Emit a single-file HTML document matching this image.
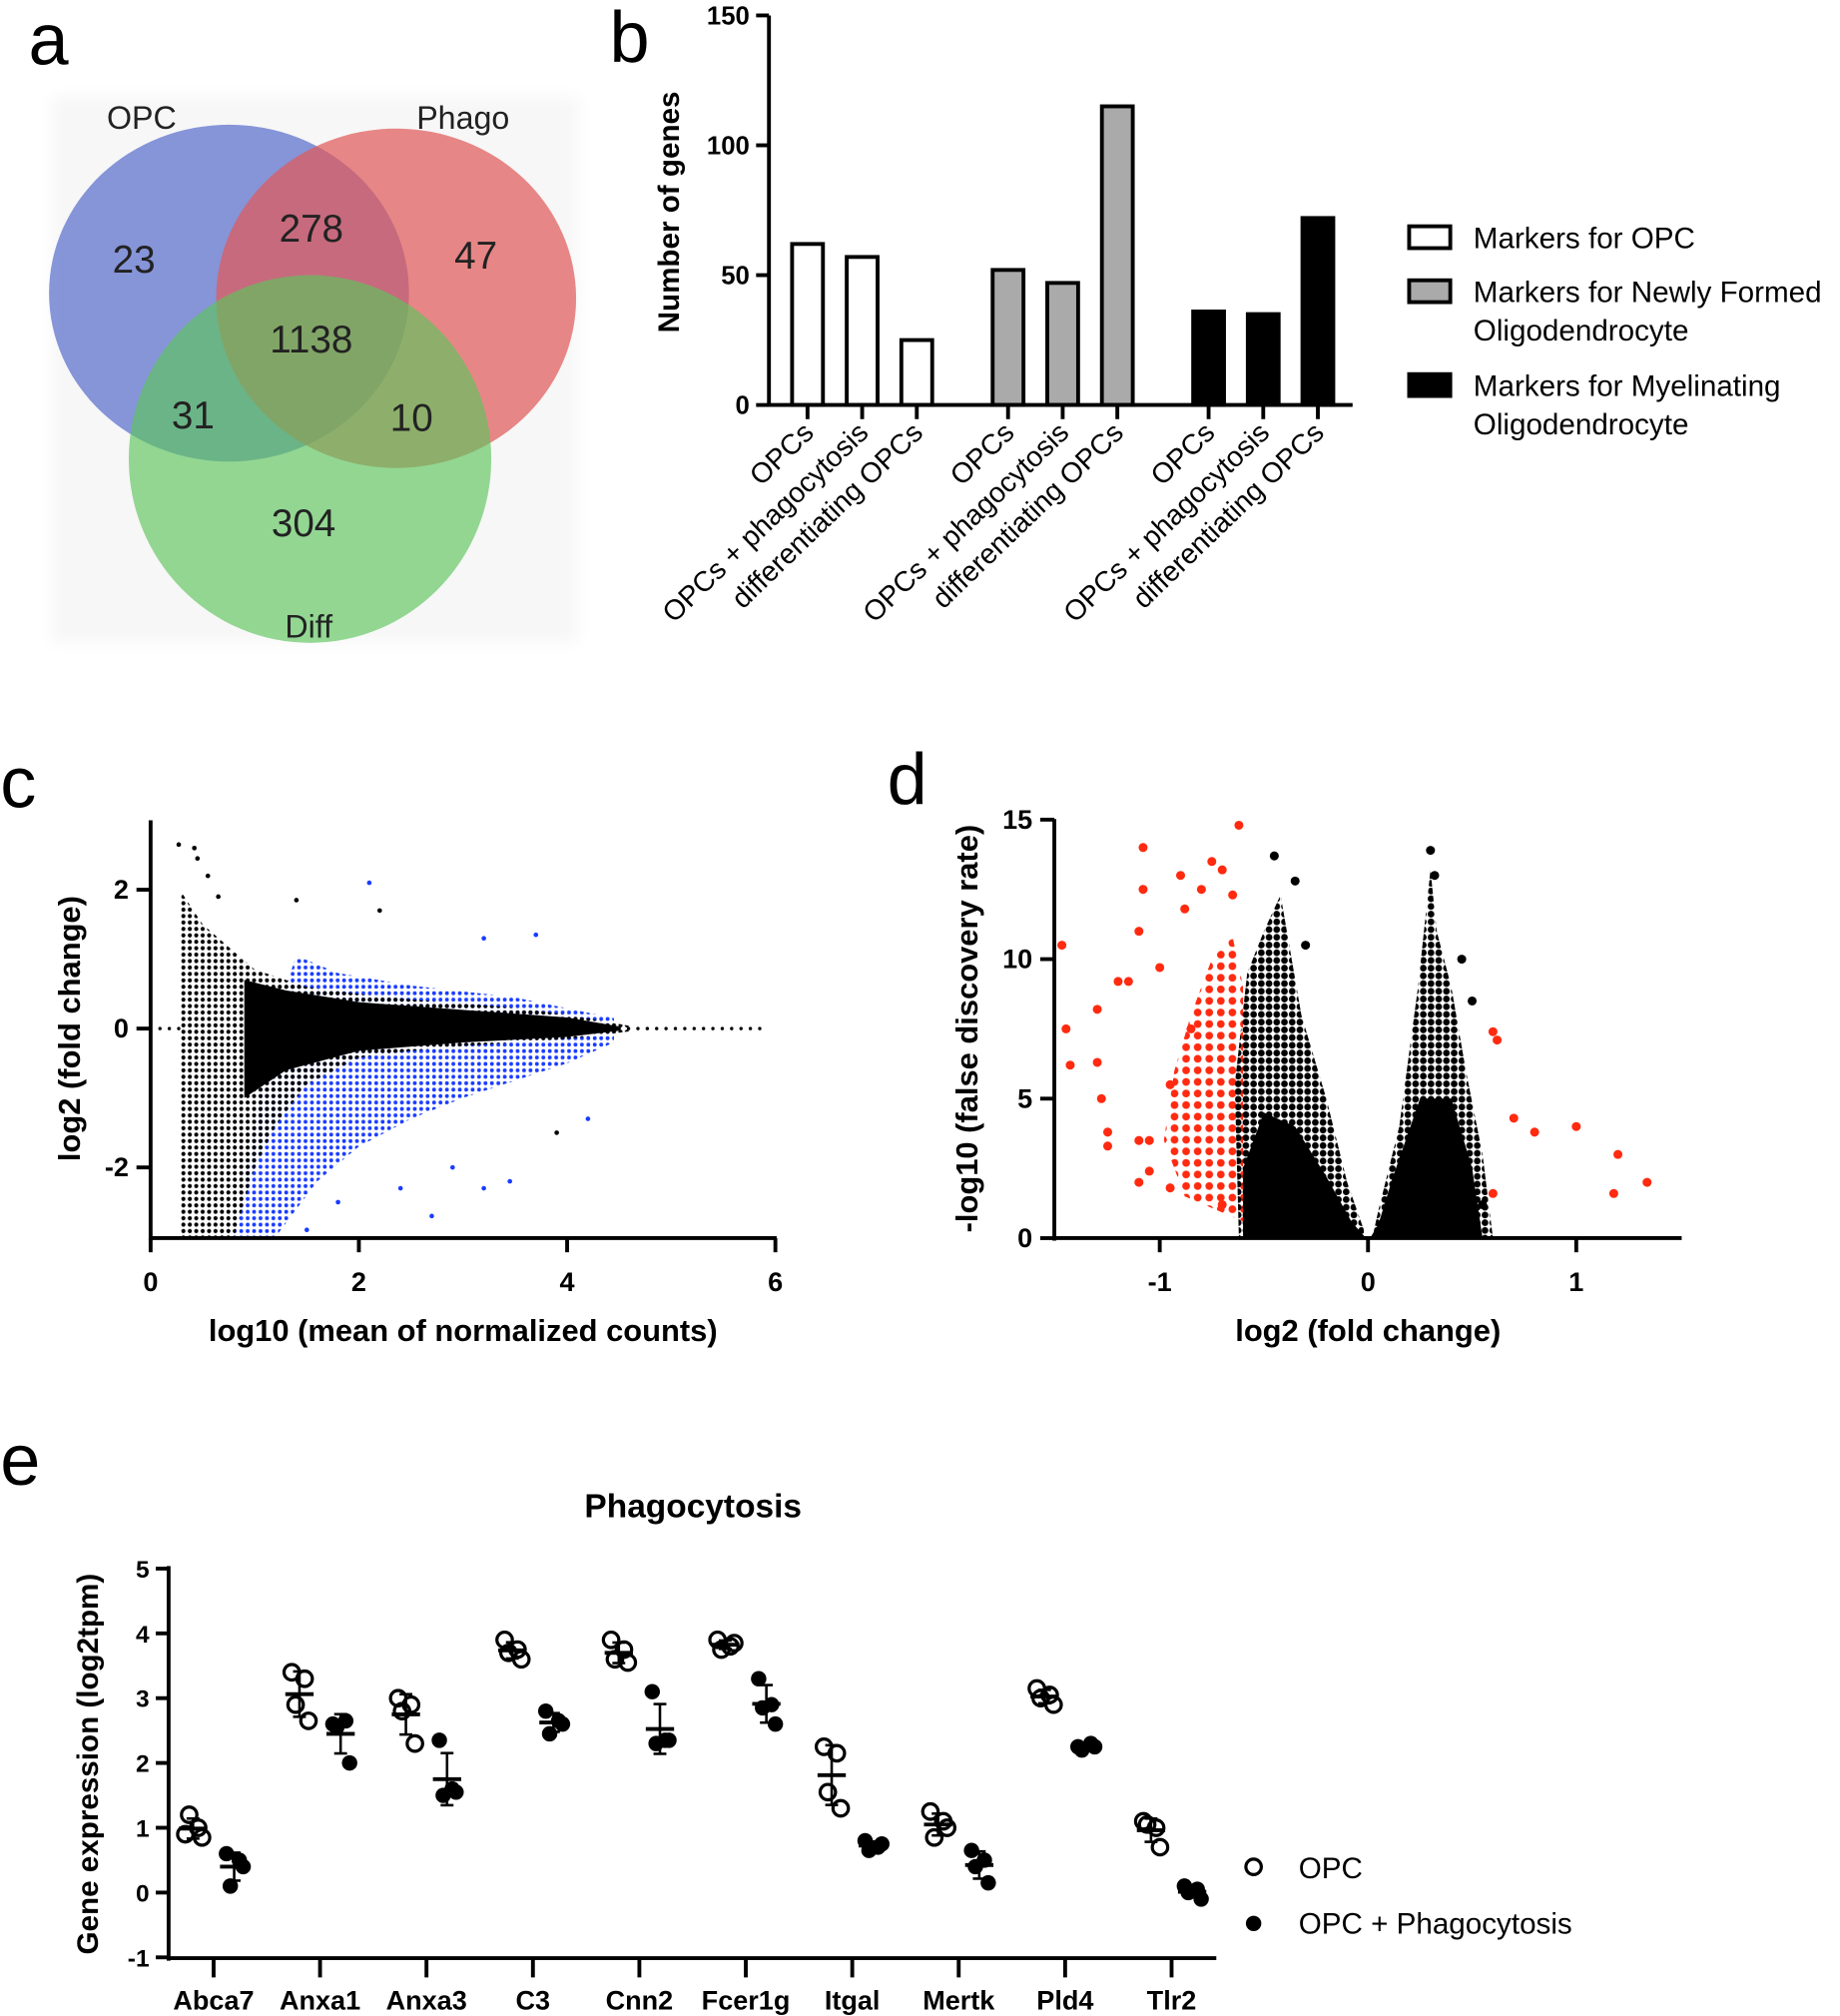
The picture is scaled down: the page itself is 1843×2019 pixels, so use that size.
<!DOCTYPE html>
<html><head><meta charset="utf-8"><style>
html,body{margin:0;padding:0;background:#fff}
svg{display:block}
text{font-family:"Liberation Sans",Arial,sans-serif}
</style></head><body>
<svg id="fig" width="1843" height="2019" viewBox="0 0 1431 1568" xmlns="http://www.w3.org/2000/svg">
<defs>
<pattern id="pk" width="5" height="5" patternUnits="userSpaceOnUse"><circle cx="2.5" cy="2.5" r="1.6" fill="#000"/></pattern>
<pattern id="pb2" width="5" height="5" patternUnits="userSpaceOnUse"><circle cx="2.5" cy="2.5" r="1.5" fill="#1a3cff"/></pattern>
<pattern id="pr" width="9" height="9" patternUnits="userSpaceOnUse"><circle cx="4.5" cy="4.5" r="3" fill="#ff2a10"/></pattern>
<pattern id="pdk" width="6" height="6" patternUnits="userSpaceOnUse"><circle cx="3" cy="3" r="2.6" fill="#000"/></pattern>
<filter id="blur"><feGaussianBlur stdDeviation="6"/></filter>
</defs>
<g font-size="56">
<text x="22" y="50">a</text>
<text x="474" y="48">b</text>
<text x="0" y="628">c</text>
<text x="690" y="625">d</text>
<text x="0" y="1155">e</text>
</g>
<g>
<rect x="40" y="75" width="410" height="425" fill="#f7f7f7" filter="url(#blur)"/>
<ellipse cx="178" cy="228" rx="140" ry="131" fill="#5a6ecc" fill-opacity="0.72"/>
<ellipse cx="308" cy="232" rx="140" ry="132" fill="#e05a5a" fill-opacity="0.72"/>
<ellipse cx="241" cy="357" rx="141" ry="143" fill="#5cc45c" fill-opacity="0.65"/>
<g font-size="30" fill="#222" text-anchor="middle">
<text x="110" y="100" font-size="25">OPC</text>
<text x="360" y="100" font-size="25">Phago</text>
<text x="240" y="496" font-size="25">Diff</text>
<text x="104" y="212">23</text>
<text x="242" y="188">278</text>
<text x="370" y="209">47</text>
<text x="242" y="274">1138</text>
<text x="150" y="333">31</text>
<text x="320" y="335">10</text>
<text x="236" y="417">304</text>
</g></g>
<g id="pb"></g>
<g id="pc"></g>
<g id="pd"></g>
<g id="pe"></g>
</svg>
<script>
const NS='http://www.w3.org/2000/svg';
function mk(p,t,a,txt){const e=document.createElementNS(NS,t);for(const k in a)e.setAttribute(k,a[k]);if(txt!==undefined)e.textContent=txt;p.appendChild(e);return e;}

// ---- Panel b data
const bCats=['OPCs','OPCs + phagocytosis','differentiating OPCs'];
const bOPC=[62,57,25];
const bNew=[52,47,115];
const bMye=[36,35,72];
const bTicks=[0,50,100,150];
(function(){
const g=document.getElementById('pb');
const y=v=>315-v*(303/150);
const groups=[[bOPC,'#fff',628,'opc'],[bNew,'#aaa',784,'newly-formed'],[bMye,'#000',940,'myelinating']];
groups.forEach(([vals,fill,x0,nm])=>{vals.forEach((v,i)=>{const cx=x0+i*42.5;
const r=mk(g,'rect',{x:cx-12,y:y(v),width:24,height:y(0)-y(v),fill:fill,stroke:'#000','stroke-width':3});


mk(g,'line',{x1:cx,x2:cx,y1:315,y2:326,stroke:'#000','stroke-width':3});
const t=mk(g,'text',{x:cx+6,y:338,'font-size':22,'text-anchor':'end',transform:`rotate(-44 ${cx+6} 338)`},bCats[i]);


});});
mk(g,'line',{x1:598,x2:598,y1:12,y2:316,stroke:'#000','stroke-width':3});
mk(g,'line',{x1:597,x2:1052,y1:315,y2:315,stroke:'#000','stroke-width':3});
bTicks.forEach(v=>{mk(g,'line',{x1:588,x2:598,y1:y(v),y2:y(v),stroke:'#000','stroke-width':3});
const t=mk(g,'text',{x:583,y:y(v)+7,'font-size':20,'font-weight':'bold','text-anchor':'end'},v);

});
const yl=mk(g,'text',{x:528,y:165,'font-size':23,'font-weight':'bold','text-anchor':'middle',transform:'rotate(-90 528 165)'},'Number of genes');


const leg=[['#fff',176,['Markers for OPC']],['#aaa',218,['Markers for Newly Formed','Oligodendrocyte']],['#000',291,['Markers for Myelinating','Oligodendrocyte']]];
leg.forEach(([f,yy,lines])=>{const r=mk(g,'rect',{x:1096,y:yy,width:32,height:17,fill:f,stroke:'#000','stroke-width':3});


lines.forEach((l,i)=>{const t=mk(g,'text',{x:1146,y:yy+17+i*30,'font-size':23},l);

});});
})();

// ---- Panel c data (MA plot): cloud envelopes and outliers
const cBlackUpper=[[0.28,2.0],[0.5,1.5],[1,0.85],[1.5,0.6],[2,0.5],[2.5,0.42],[3,0.36],[3.5,0.3],[4,0.2],[4.3,0.12],[4.6,0.04]];
const cBlackLower=[[4.6,-0.04],[4.3,-0.1],[4,-0.15],[3.5,-0.2],[3,-0.25],[2.5,-0.32],[2,-0.42],[1.5,-0.8],[1.2,-1.4],[1,-2],[0.8,-3],[0.28,-3]];
const cCore=[[0.9,0.7],[1.3,0.55],[2,0.38],[3,0.27],[4,0.16],[4.5,0.03],[4.5,-0.03],[4,-0.12],[3,-0.2],[2,-0.32],[1.3,-0.6],[0.9,-1.0]];
const cBlue=[[0.8,-3],[1.2,-3],[1.6,-2.2],[2,-1.7],[2.5,-1.3],[3,-1.0],[3.5,-0.75],[4,-0.5],[4.45,-0.2],[4.45,0.15],[3.5,0.45],[2.5,0.62],[1.8,0.8],[1.4,1.05],[1.2,0.2]];
const cOutX=[0.27,0.42,0.45,0.55,0.65,1.4,2.1,2.2,3.2,3.7,2.7,3.45,3.9,3.2,2.4,4.2,1.5,1.8,2.9];
const cOutY=[2.65,2.6,2.45,2.2,1.9,1.85,2.1,1.7,1.3,1.35,-2.7,-2.2,-1.5,-2.3,-2.3,-1.3,-2.9,-2.5,-2.0];
const cOutC=['k','k','k','k','k','k','b','k','b','b','b','b','k','b','b','b','b','b','b'];
const cXTicks=[0,2,4,6];
const cYTicks=[-2,0,2];
(function(){
const g=document.getElementById('pc');
const X=v=>117+v*81,Y=v=>800-v*54;
const pts=a=>a.map(p=>X(p[0])+','+Y(p[1])).join(' ');
let e=mk(g,'polygon',{points:pts(cBlue),fill:'url(#pb2)'});


e=mk(g,'polygon',{points:pts(cBlackUpper.concat(cBlackLower)),fill:'url(#pk)'});


e=mk(g,'polygon',{points:pts(cCore),fill:'#000'});


for(let v=4.5;v<5.9;v+=0.09){mk(g,'circle',{cx:X(v),cy:Y(0),r:1.3,fill:'#000'});}
for(let v=0;v<0.3;v+=0.09){mk(g,'circle',{cx:X(v),cy:Y(0),r:1.3,fill:'#000'});}
cOutX.forEach((v,i)=>{const c=mk(g,'circle',{cx:X(v),cy:Y(cOutY[i]),r:1.8,fill:cOutC[i]=='b'?'#1a3cff':'#000'});

});
mk(g,'line',{x1:117,x2:117,y1:638,y2:965,stroke:'#000','stroke-width':3});
mk(g,'line',{x1:116,x2:604,y1:963,y2:963,stroke:'#000','stroke-width':3});
cXTicks.forEach(v=>{mk(g,'line',{x1:X(v),x2:X(v),y1:963,y2:974,stroke:'#000','stroke-width':3});
const t=mk(g,'text',{x:X(v),y:1004,'font-size':21,'font-weight':'bold','text-anchor':'middle'},v);

});
cYTicks.forEach(v=>{mk(g,'line',{x1:106,x2:117,y1:Y(v),y2:Y(v),stroke:'#000','stroke-width':3});
const t=mk(g,'text',{x:100,y:Y(v)+7,'font-size':21,'font-weight':'bold','text-anchor':'end'},v);

});
let t=mk(g,'text',{x:360,y:1043,'font-size':24,'font-weight':'bold','text-anchor':'middle'},'log10 (mean of normalized counts)');


t=mk(g,'text',{x:62,y:800,'font-size':24,'font-weight':'bold','text-anchor':'middle',transform:'rotate(-90 62 800)'},'log2 (fold change)');


})();

// ---- Panel d data (volcano)
const dLeftCloud=[[-0.02,0],[-0.62,0],[-0.64,5.5],[-0.58,9.5],[-0.5,11],[-0.42,12.3],[-0.32,8],[-0.2,5],[-0.1,2],[-0.02,0.3]];
const dLeftCore=[[-0.01,0],[-0.6,0],[-0.6,2.5],[-0.5,4.5],[-0.35,4],[-0.2,2.2],[-0.08,0.6]];
const dRightCloud=[[0.02,0],[0.6,0],[0.55,3],[0.47,6],[0.4,9],[0.33,11],[0.3,13.2],[0.24,9],[0.15,4],[0.05,1]];
const dRightCore=[[0.01,0],[0.55,0],[0.5,2.5],[0.4,5],[0.25,5],[0.12,2.2],[0.05,0.5]];
const dRedCloud=[[-0.6,0.6],[-0.88,1.5],[-0.98,3.5],[-0.93,6],[-0.85,8],[-0.75,10],[-0.65,10.8],[-0.6,9],[-0.6,1]];
const dRedX=[-1.47,-1.45,-1.43,-1.3,-1.3,-1.28,-1.25,-1.25,-1.2,-1.15,-1.1,-1.08,-1.08,-1.1,-1.05,-1.1,-1.05,-1.0,-0.95,-0.9,-0.88,-0.8,-0.75,-0.7,-0.62,-0.65,0.6,0.62,0.6,0.7,0.8,1.0,1.2,1.34,1.18,-0.85,-0.7,-0.95];
const dRedY=[10.5,7.5,6.2,8.2,6.3,5,3.8,3.3,9.2,9.2,11,14,12.5,3.5,3.5,2,2.4,9.7,1.8,13,11.8,12.5,13.5,13.2,14.8,12.3,7.4,7.1,1.6,4.3,3.8,4.0,3.0,2.0,1.6,7.5,1.2,5.5];
const dBlkX=[-0.45,-0.35,-0.3,0.3,0.32,0.45,0.5,-0.55,0.55];
const dBlkY=[13.7,12.8,10.5,13.9,13,10,8.5,0.5,1.2];
const dXTicks=[-1,0,1];
const dYTicks=[0,5,10,15];
(function(){
const g=document.getElementById('pd');
const X=v=>1064+v*162,Y=v=>963-v*21.7;
const pts=a=>a.map(p=>X(p[0])+','+Y(p[1])).join(' ');
[[dRedCloud,'url(#pr)','significant-gene-cloud'],[dLeftCloud,'url(#pdk)','left-gene-cloud'],[dRightCloud,'url(#pdk)','right-gene-cloud'],[dLeftCore,'#000','left-gene-core'],[dRightCore,'#000','right-gene-core']].forEach(([a,f,n])=>{
const e=mk(g,'polygon',{points:pts(a),fill:f});

});
dBlkX.forEach((v,i)=>{const c=mk(g,'circle',{cx:X(v),cy:Y(dBlkY[i]),r:3.5,fill:'#000'});

});
dRedX.forEach((v,i)=>{const c=mk(g,'circle',{cx:X(v),cy:Y(dRedY[i]),r:3.5,fill:'#ff2a10'});

});
mk(g,'line',{x1:820,x2:820,y1:637,y2:965,stroke:'#000','stroke-width':3});
mk(g,'line',{x1:819,x2:1308,y1:963,y2:963,stroke:'#000','stroke-width':3});
dXTicks.forEach(v=>{mk(g,'line',{x1:X(v),x2:X(v),y1:963,y2:974,stroke:'#000','stroke-width':3});
const t=mk(g,'text',{x:X(v),y:1004,'font-size':21,'font-weight':'bold','text-anchor':'middle'},v);

});
dYTicks.forEach(v=>{mk(g,'line',{x1:809,x2:820,y1:Y(v),y2:Y(v),stroke:'#000','stroke-width':3});
const t=mk(g,'text',{x:803,y:Y(v)+7,'font-size':21,'font-weight':'bold','text-anchor':'end'},v);

});
let t=mk(g,'text',{x:1064,y:1043,'font-size':24,'font-weight':'bold','text-anchor':'middle'},'log2 (fold change)');


t=mk(g,'text',{x:760,y:800,'font-size':24,'font-weight':'bold','text-anchor':'middle',transform:'rotate(-90 760 800)'},'-log10 (false discovery rate)');


})();

// ---- Panel e data
const eGenes=['Abca7','Anxa1','Anxa3','C3','Cnn2','Fcer1g','Itgal','Mertk','Pld4','Tlr2'];
const eOPC=[[0.9,1.0,1.2,0.85],[3.4,3.3,2.9,2.65],[3.0,2.9,2.8,2.3],[3.9,3.75,3.7,3.6],[3.9,3.75,3.6,3.55],[3.9,3.8,3.75,3.85],[2.25,2.15,1.55,1.3],[1.25,1.1,0.85,1.0],[3.15,3.05,3.0,2.9],[1.1,1.0,1.05,0.7]];
const ePhago=[[0.6,0.5,0.1,0.4],[2.6,2.65,2.55,2.0],[2.35,1.6,1.5,1.55],[2.8,2.65,2.45,2.6],[3.1,2.35,2.3,2.35],[3.3,2.9,2.85,2.6],[0.8,0.7,0.65,0.75],[0.65,0.5,0.4,0.15],[2.25,2.3,2.2,2.25],[0.1,0.05,0.0,-0.1]];
const eYTicks=[-1,0,1,2,3,4,5];
(function(){
const g=document.getElementById('pe');
const Y=v=>1472-v*50.4;
const X=i=>166+i*82.8;
const offs=[-6,4,-3,7];
function grp(vals,cx,filled,name){
const m=vals.reduce((a,b)=>a+b,0)/vals.length;
const sd=Math.sqrt(vals.reduce((a,b)=>a+(b-m)*(b-m),0)/(vals.length-1));
mk(g,'line',{x1:cx,x2:cx,y1:Y(m+sd),y2:Y(m-sd),stroke:'#000','stroke-width':2});
[m+sd,m-sd].forEach(v=>mk(g,'line',{x1:cx-5,x2:cx+5,y1:Y(v),y2:Y(v),stroke:'#000','stroke-width':2}));
mk(g,'line',{x1:cx-11,x2:cx+11,y1:Y(m),y2:Y(m),stroke:'#000','stroke-width':3});
vals.forEach((v,k)=>{const c=mk(g,'circle',{cx:cx+offs[k],cy:Y(v),r:6,fill:filled?'#000':'#fff','fill-opacity':filled?1:0,stroke:'#000','stroke-width':filled?0:2.5});

});
}
eGenes.forEach((gn,i)=>{grp(eOPC[i],X(i)-16,false,'opc-point');grp(ePhago[i],X(i)+16,true,'phago-point');
mk(g,'line',{x1:X(i),x2:X(i),y1:1523,y2:1538,stroke:'#000','stroke-width':3});
const t=mk(g,'text',{x:X(i),y:1563,'font-size':21,'font-weight':'bold','text-anchor':'middle'},gn);

});
mk(g,'line',{x1:131,x2:131,y1:1218,y2:1525,stroke:'#000','stroke-width':3});
mk(g,'line',{x1:130,x2:946,y1:1523,y2:1523,stroke:'#000','stroke-width':3});
eYTicks.forEach(v=>{mk(g,'line',{x1:121,x2:131,y1:Y(v),y2:Y(v),stroke:'#000','stroke-width':3});
const t=mk(g,'text',{x:116,y:Y(v)+7,'font-size':19,'font-weight':'bold','text-anchor':'end'},v);

});
let t=mk(g,'text',{x:539,y:1180,'font-size':26,'font-weight':'bold','text-anchor':'middle'},'Phagocytosis');


t=mk(g,'text',{x:76,y:1372,'font-size':23,'font-weight':'bold','text-anchor':'middle',transform:'rotate(-90 76 1372)'},'Gene expression (log2tpm)');


let c=mk(g,'circle',{cx:975,cy:1452,r:6,fill:'none',stroke:'#000','stroke-width':2.5});


c=mk(g,'circle',{cx:975,cy:1496,r:6,fill:'#000'});


t=mk(g,'text',{x:1010,y:1461,'font-size':23},'OPC');


t=mk(g,'text',{x:1010,y:1504,'font-size':23},'OPC + Phagocytosis');


})();
</script>
</body></html>
